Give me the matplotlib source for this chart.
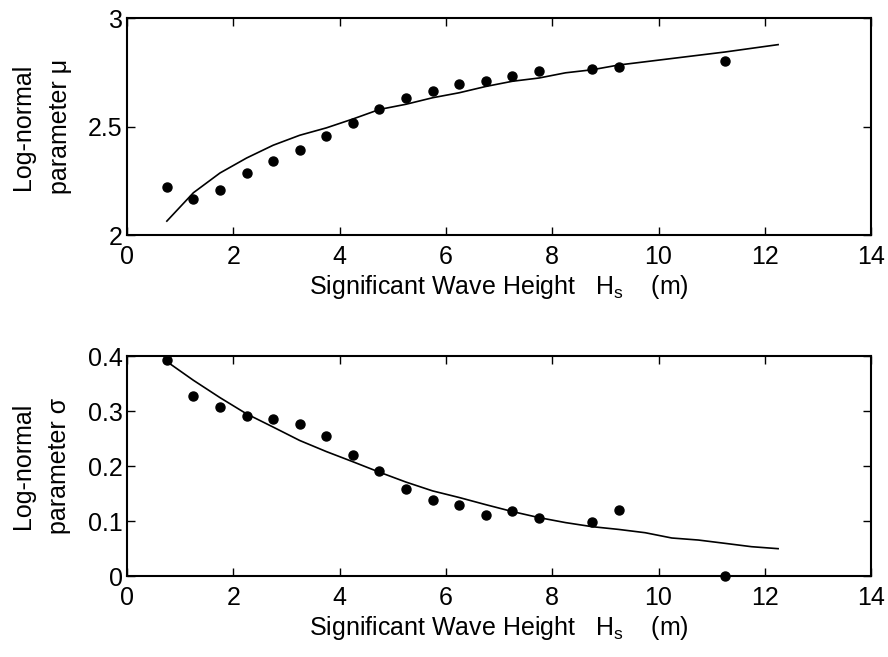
import numpy as np
import matplotlib
matplotlib.use('Agg')
import matplotlib.pyplot as plt

plt.rcParams['font.family'] = ['Liberation Sans', 'DejaVu Sans']
plt.rcParams['mathtext.fontset'] = 'custom'
plt.rcParams['mathtext.rm'] = 'Liberation Sans'
plt.rcParams['mathtext.it'] = 'Liberation Sans'

# ── Binned sample estimates (bin centres of Hs) ──
hs_pts = [0.75, 1.25, 1.75, 2.25, 2.75, 3.25, 3.75, 4.25, 4.75, 5.25,
          5.75, 6.25, 6.75, 7.25, 7.75, 8.75, 9.25, 11.25]
mu_pts = [2.224, 2.169, 2.208, 2.286, 2.340, 2.393, 2.456, 2.517, 2.580, 2.634,
          2.665, 2.696, 2.711, 2.734, 2.758, 2.766, 2.775, 2.805]
sig_pts = [0.392, 0.327, 0.308, 0.292, 0.286, 0.276, 0.255, 0.220, 0.192, 0.158,
           0.139, 0.130, 0.111, 0.118, 0.105, 0.099, 0.121, 0.001]

# ── Fitted curves ──
hs_fit = [0.75, 1.25, 1.75, 2.25, 2.75, 3.25, 3.75, 4.25, 4.75, 5.25, 5.75, 6.25,
          6.75, 7.25, 7.75, 8.25, 8.75, 9.25, 9.75, 10.25, 10.75, 11.25, 11.75, 12.25]
mu_fit = [2.065, 2.196, 2.287, 2.356, 2.415, 2.461, 2.495, 2.536, 2.580, 2.604, 2.634, 2.657,
          2.686, 2.710, 2.725, 2.749, 2.763, 2.785, 2.800, 2.815, 2.830, 2.845, 2.862, 2.879]
sig_fit = [0.390, 0.356, 0.3245, 0.295, 0.271, 0.2466, 0.2265, 0.208, 0.189, 0.171, 0.155, 0.143,
           0.130, 0.1175, 0.1065, 0.0974, 0.090, 0.085, 0.079, 0.0694, 0.0657, 0.0597, 0.0536, 0.050]

FS = 18

fig = plt.figure(figsize=(8.88, 6.57), dpi=100)
ax1 = fig.add_axes([0.143, 0.642, 0.838, 0.330])
ax2 = fig.add_axes([0.143, 0.123, 0.838, 0.335])

xlabel = 'Significant Wave Height   H$_{\\mathregular{s}}$    (m)'

for ax, pts, fit in [(ax1, mu_pts, mu_fit), (ax2, sig_pts, sig_fit)]:
    ax.plot(hs_fit, fit, color='black', lw=1.2, zorder=2)
    ax.plot(hs_pts, pts, 'o', color='black', ms=6.5, zorder=3, clip_on=False)
    ax.set_xlim(0, 14)
    ax.set_xticks(range(0, 15, 2))
    ax.tick_params(direction='in', top=True, right=True, length=5.5, width=1.0,
                   labelsize=FS)
    ax.tick_params(axis='x', pad=7)
    ax.tick_params(axis='y', pad=3)
    for s in ax.spines.values():
        s.set_linewidth(1.5)
    ax.set_xlabel(xlabel, fontsize=FS, labelpad=3)

ax1.set_ylim(2, 3)
ax1.set_yticks([2, 2.5, 3])
ax1.set_yticklabels(['2', '2.5', '3'])
ax1.set_ylabel('Log-normal\nparameter \u03bc', fontsize=FS, labelpad=12,
               linespacing=1.65)

ax2.set_ylim(0, 0.4)
ax2.set_yticks([0, 0.1, 0.2, 0.3, 0.4])
ax2.set_yticklabels(['0', '0.1', '0.2', '0.3', '0.4'])
ax2.set_ylabel('Log-normal\nparameter \u03c3', fontsize=FS, labelpad=12,
               linespacing=1.65)

fig.savefig('out.png', dpi=100)
